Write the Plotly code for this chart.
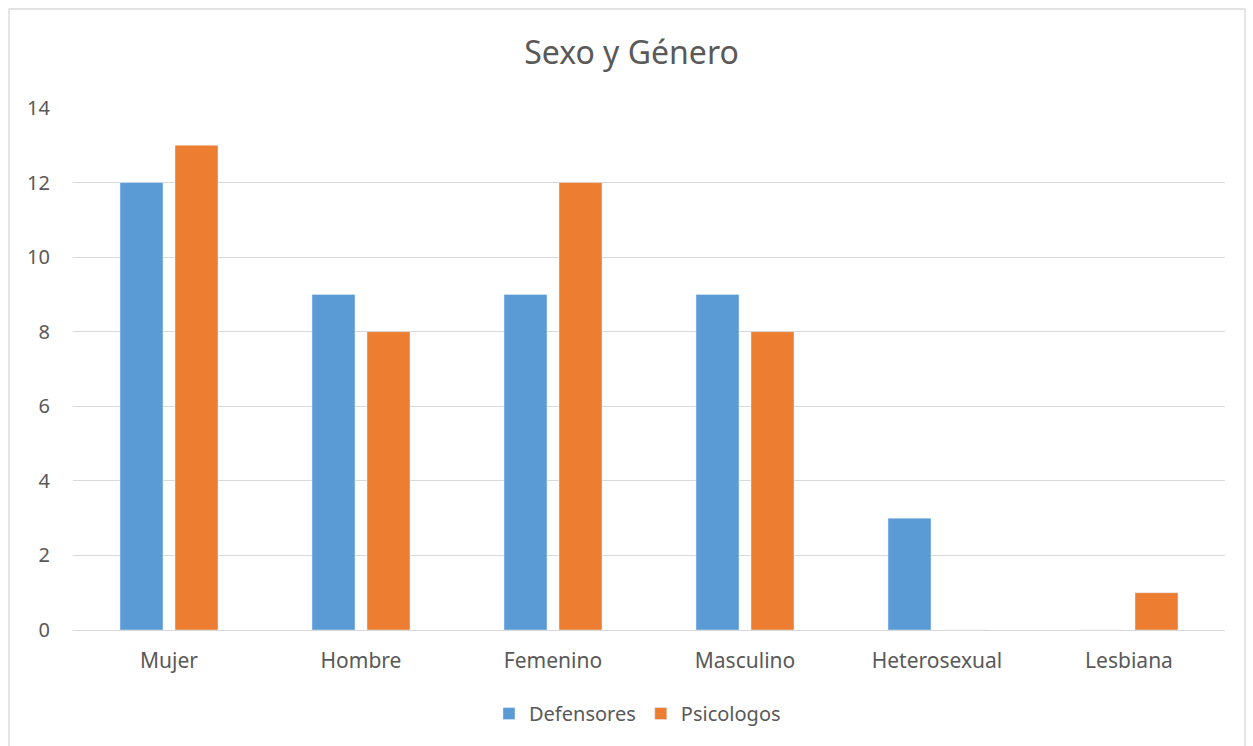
import plotly.graph_objects as go

categories = ["Mujer", "Hombre", "Femenino", "Masculino", "Heterosexual", "Lesbiana"]
defensores = [12, 9, 9, 9, 3, 0]
psicologos = [13, 8, 12, 8, 0, 1]
y_ticks = [0, 2, 4, 6, 8, 10, 12, 14]

FONT = "Noto Sans"
TXT = "#595959"

fig = go.Figure()
fig.add_trace(go.Bar(x=categories, y=defensores, name="Defensores", marker_color="#5B9BD5"))
fig.add_trace(go.Bar(x=categories, y=psicologos, name="Psicologos", marker_color="#ED7D31"))

fig.update_layout(
    width=1253, height=746,
    margin=dict(l=73, r=28, t=108, b=116, autoexpand=False),
    paper_bgcolor="white", plot_bgcolor="white",
    barmode="group", bargap=0.427, bargroupgap=0.218,
    title=dict(text="Sexo y Género", x=0.504, xanchor="center", y=0.929, yanchor="middle",
               font=dict(family=FONT, size=32, color=TXT)),
    font=dict(family=FONT, size=20, color=TXT),
    legend=dict(orientation="h", x=0.49, xanchor="center", y=-0.16, yanchor="middle",
                font=dict(family=FONT, size=20, color=TXT), itemwidth=30, traceorder="normal"),
    showlegend=True,
)
fig.update_yaxes(range=[0, 14], tickvals=y_ticks, showgrid=True, gridcolor="#d9d9d9", gridwidth=1.3,
                 zeroline=False, showline=False, ticklabelstandoff=22,
                 tickfont=dict(family=FONT, size=20, color=TXT))
fig.update_xaxes(showline=True, linecolor="#d9d9d9", linewidth=1.3, ticks="", ticklabelstandoff=12,
                 tickfont=dict(family=FONT, size=21, color=TXT))

fig.add_shape(type="rect", xref="paper", yref="paper",
              x0=(9 - 73) / 1152, x1=(1245 - 73) / 1152,
              y0=(630 - 752) / 522, y1=1 + (108 - 9) / 522,
              line=dict(color="#d9d9d9", width=1.3), fillcolor="rgba(0,0,0,0)", layer="below")

fig.write_html("out.html", config={"displayModeBar": False},
               post_script="document.body.style.margin='0';")
